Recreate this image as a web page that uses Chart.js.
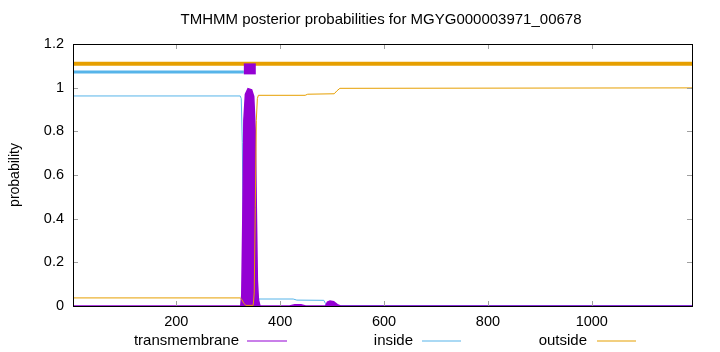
<!DOCTYPE html>
<html>
<head>
<meta charset="utf-8">
<script src="https://cdn.jsdelivr.net/npm/chart.js@4/dist/chart.umd.min.js"></script>
<style>
  body { margin: 0; background: #fff; }
  canvas { display: block; }
</style>
</head>
<body>
<canvas id="chart" width="720" height="352"></canvas>
<script>
// values
const seqLength = 1193;
const xTicks = [200, 400, 600, 800, 1000];
const yTicks = [0, 0.2, 0.4, 0.6, 0.8, 1, 1.2];

const insideX = [1, 323, 325, 327, 329, 331, 334, 350, 353, 356, 425, 432, 484, 487, 490, 1193];
const insideY = [0.962, 0.962, 0.95, 0.75, 0.3, 0.05, 0.003, 0.003, 0.02, 0.032, 0.032, 0.027, 0.026, 0.012, 0.002, 0.002];

const outsideX = [1, 323, 326, 330, 334, 348, 350, 352, 354, 356, 358, 448, 453, 504, 509, 515, 1193];
const outsideY = [0.037, 0.037, 0.03, 0.012, 0.003, 0.003, 0.06, 0.45, 0.85, 0.95, 0.965, 0.965, 0.97, 0.972, 0.985, 0.997, 0.999];

const tmX = [1, 324, 326, 328, 330, 333, 338, 345, 349, 352, 354, 356, 358, 361, 418, 428, 440, 449, 487, 491, 496, 503, 510, 516, 1193];
const tmY = [0, 0, 0.05, 0.4, 0.85, 0.97, 0.995, 0.99, 0.96, 0.8, 0.45, 0.12, 0.03, 0, 0, 0.006, 0.006, 0, 0, 0.018, 0.023, 0.02, 0.006, 0, 0];

// predicted topology bars above the curves
const outsideBarX = [1, 1193];
const outsideBarY = 1.11;
const insideBarX = [1, 330];
const insideBarY = 1.072;
const tmBarX = [330, 353];
const tmBarY = 1.086;

const colors = { tm: '#9400d3', inside: '#56b4e9', outside: '#e69f00' };
const FONT = "'Liberation Sans', Arial, sans-serif";

function pts(xs, ys) {
    return xs.map((x, i) => ({ x: x, y: Array.isArray(ys) ? ys[i] : ys }));
}

const gnuplotFrame = {
    id: 'gnuplotFrame',
    afterDraw(chart) {
        const ctx = chart.ctx;
        const a = chart.chartArea;
        const xs = chart.scales.x, ys = chart.scales.y;
        ctx.save();
        // tick marks (inward, mirrored)
        ctx.strokeStyle = '#a0a0a0';
        ctx.lineWidth = 1;
        ctx.beginPath();
        yTicks.forEach(v => {
            const p = Math.round(ys.getPixelForValue(v)) + 0.5;
            ctx.moveTo(a.left, p); ctx.lineTo(a.left + 5, p);
            ctx.moveTo(a.right, p); ctx.lineTo(a.right - 5, p);
        });
        xTicks.forEach(v => {
            const p = Math.round(xs.getPixelForValue(v)) + 0.5;
            ctx.moveTo(p, a.bottom); ctx.lineTo(p, a.bottom - 5);
            ctx.moveTo(p, a.top); ctx.lineTo(p, a.top + 5);
        });
        ctx.stroke();
        // border
        ctx.strokeStyle = '#000';
        ctx.strokeRect(Math.round(a.left) + 0.5, Math.round(a.top) + 0.5,
            Math.round(a.right - a.left), Math.round(a.bottom - a.top));
        // title
        ctx.fillStyle = '#000';
        ctx.font = '15px ' + FONT;
        ctx.textAlign = 'center';
        ctx.textBaseline = 'middle';
        ctx.fillText('TMHMM posterior probabilities for MGYG000003971_00678', 381, 20);
        // legend: text then sample line
        const entries = [
            { ds: 0, color: colors.tm, textEnd: 239, x0: 247, x1: 287 },
            { ds: 1, color: colors.inside, textEnd: 413, x0: 422, x1: 461 },
            { ds: 2, color: colors.outside, textEnd: 587, x0: 597, x1: 636 }
        ];
        const ly = 341;
        entries.forEach(e => {
            ctx.textAlign = 'right';
            ctx.fillStyle = '#000';
            ctx.fillText(chart.data.datasets[e.ds].label, e.textEnd, ly);
        });
        entries.forEach(e => {
            ctx.strokeStyle = e.color;
            ctx.lineWidth = 1.2;
            ctx.beginPath();
            ctx.moveTo(e.x0, ly); ctx.lineTo(e.x1, ly);
            ctx.stroke();
        });
        ctx.restore();
    }
};

new Chart(document.getElementById('chart'), {
    type: 'line',
    data: {
        datasets: [
            {
                label: 'transmembrane',
                data: pts(tmX, tmY),
                borderColor: colors.tm,
                backgroundColor: colors.tm,
                borderWidth: 1.5,
                fill: 'origin',
                order: 3
            },
            {
                label: 'inside',
                data: pts(insideX, insideY),
                borderColor: colors.inside,
                borderWidth: 1,
                fill: false,
                order: 4
            },
            {
                label: 'outside',
                data: pts(outsideX, outsideY),
                borderColor: colors.outside,
                borderWidth: 1,
                fill: false,
                order: 2
            },
            {
                label: 'outside bar',
                data: pts(outsideBarX, outsideBarY),
                borderColor: colors.outside,
                borderWidth: 4,
                borderCapStyle: 'butt',
                fill: false,
                order: 1
            },
            {
                label: 'inside bar',
                data: pts(insideBarX, insideBarY),
                borderColor: colors.inside,
                borderWidth: 3,
                borderCapStyle: 'butt',
                fill: false,
                order: 1
            },
            {
                label: 'tm bar',
                data: pts(tmBarX, tmBarY),
                borderColor: colors.tm,
                borderWidth: 11,
                borderCapStyle: 'butt',
                fill: false,
                order: 0
            }
        ]
    },
    options: {
        responsive: false,
        animation: false,
        layout: { padding: { top: 44, right: 28, left: 0, bottom: 0 } },
        elements: { point: { radius: 0 }, line: { tension: 0 } },
        plugins: {
            legend: { display: false },
            tooltip: { enabled: false },
            title: { display: false }
        },
        scales: {
            x: {
                type: 'linear',
                min: 1,
                max: seqLength,
                grid: { display: false, drawTicks: false },
                border: { display: false },
                afterBuildTicks: s => { s.ticks = xTicks.map(v => ({ value: v })); },
                afterFit: s => { s.height = 46; },
                ticks: {
                    padding: 7,
                    color: '#000',
                    font: { family: FONT, size: 14.5 },
                    maxRotation: 0,
                    autoSkip: false,
                    callback: v => String(v)
                }
            },
            y: {
                min: 0,
                max: 1.2,
                grid: { display: false, drawTicks: false },
                border: { display: false },
                afterBuildTicks: s => { s.ticks = yTicks.map(v => ({ value: v })); },
                afterFit: s => { s.width = 73; },
                ticks: {
                    padding: 9,
                    color: '#000',
                    font: { family: FONT, size: 14.5 },
                    autoSkip: false,
                    callback: v => String(Math.round(v * 10) / 10)
                },
                title: {
                    display: true,
                    text: 'probability',
                    color: '#000',
                    font: { family: FONT, size: 14 },
                    padding: { top: 7, bottom: 0 }
                }
            }
        }
    },
    plugins: [gnuplotFrame]
});
</script>
</body>
</html>
